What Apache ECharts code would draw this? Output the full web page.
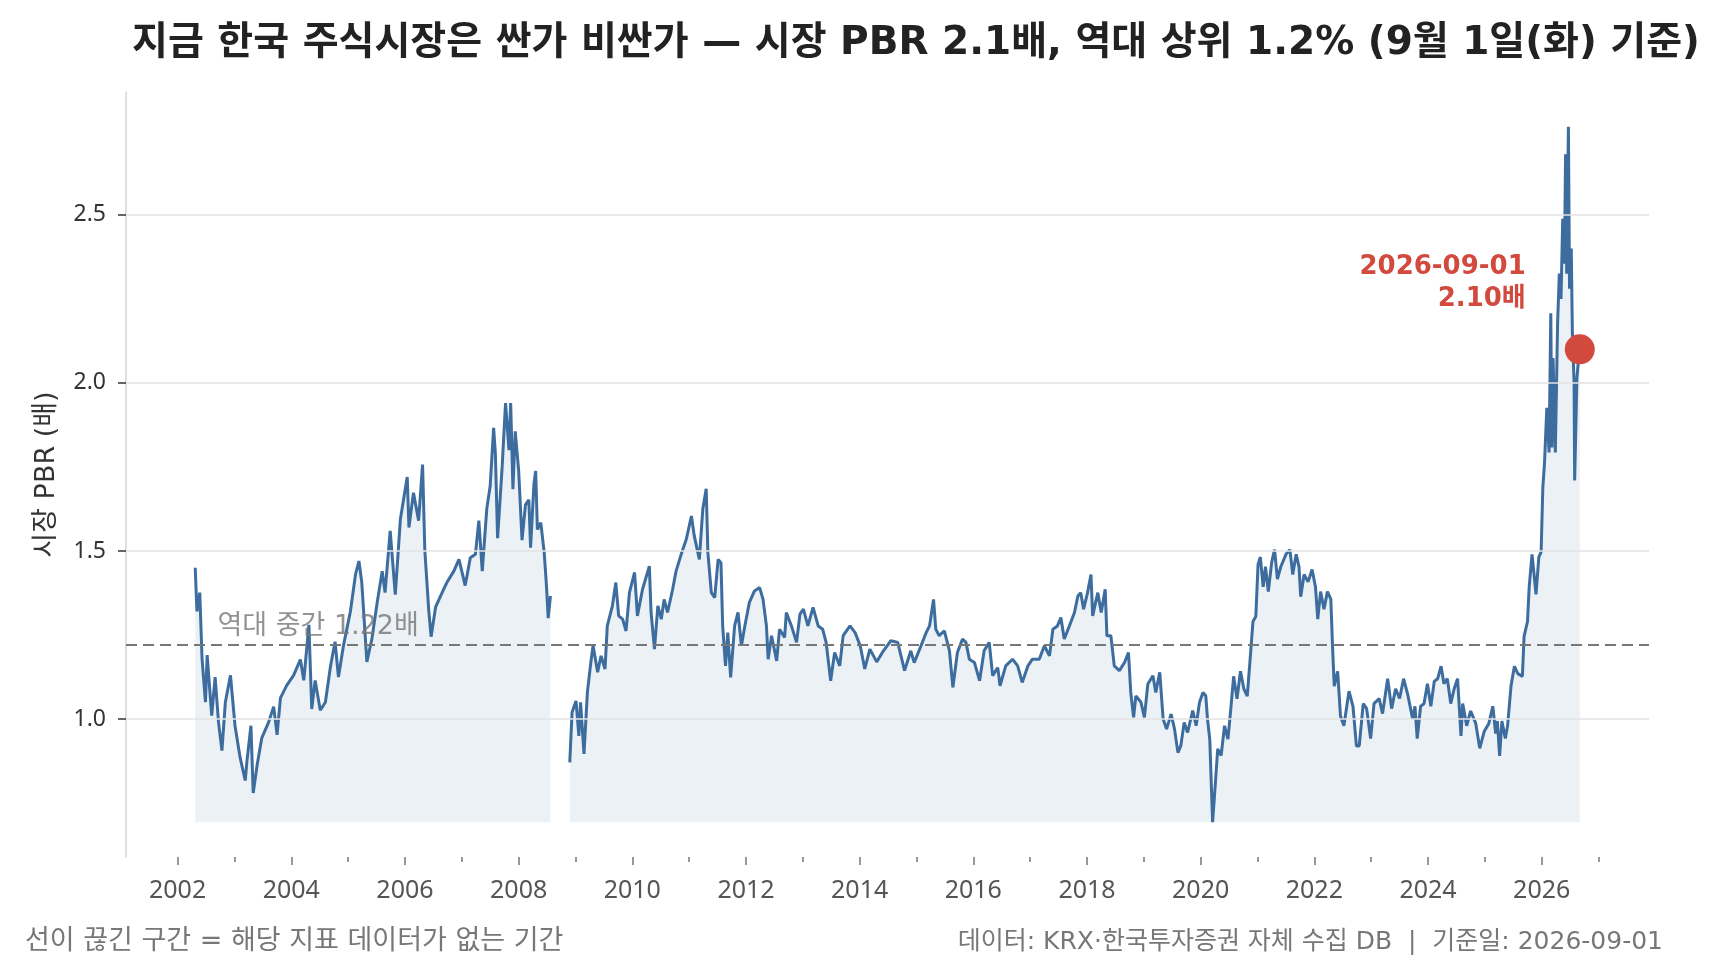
<!DOCTYPE html>
<html><head><meta charset="utf-8">
<script src="https://cdn.jsdelivr.net/npm/echarts@6/dist/echarts.min.js"></script>
<style>html,body{margin:0;padding:0;background:#fff}#c{width:1728px;height:975px}</style>
</head><body><div id="c"></div>
<script>
const years = [
2002.31,2002.34,2002.39,2002.43,2002.49,2002.52,2002.60,2002.66,2002.72,2002.78,2002.84,2002.93,
2003.01,2003.10,2003.19,2003.22,2003.29,2003.33,2003.40,2003.48,2003.60,2003.69,2003.75,2003.81,2003.92,
2004.04,2004.16,2004.22,2004.31,2004.36,2004.42,2004.51,2004.60,2004.69,2004.77,2004.83,2004.92,
2005.04,2005.13,2005.19,2005.24,2005.33,2005.42,2005.51,2005.60,2005.65,2005.74,2005.83,2005.92,
2006.04,2006.07,2006.15,2006.24,2006.31,2006.35,2006.42,2006.46,2006.54,2006.68,2006.74,2006.86,2006.95,
2007.06,2007.15,2007.24,2007.30,2007.36,2007.44,2007.50,2007.56,2007.59,2007.63,2007.71,2007.77,2007.83,2007.86,2007.90,2007.94,
2008.00,2008.06,2008.12,2008.18,2008.21,2008.27,2008.30,2008.33,2008.39,2008.45,2008.49,2008.52,2008.56,
2008.70,
2008.90,2008.94,2009.01,2009.06,2009.09,2009.15,2009.21,2009.27,2009.31,2009.39,2009.45,2009.52,2009.56,2009.65,2009.71,2009.76,2009.83,2009.89,2009.95,
2010.04,2010.09,2010.18,2010.30,2010.33,2010.39,2010.45,2010.51,2010.56,2010.62,2010.71,2010.77,2010.86,2010.95,
2011.04,2011.09,2011.18,2011.24,2011.30,2011.33,2011.39,2011.45,2011.51,2011.56,2011.59,2011.64,2011.68,2011.73,2011.80,2011.86,2011.92,2011.98,
2012.06,2012.15,2012.24,2012.30,2012.36,2012.39,2012.45,2012.54,2012.59,2012.68,2012.71,2012.80,2012.89,2012.95,
2013.01,2013.09,2013.18,2013.27,2013.35,2013.41,2013.49,2013.56,2013.65,2013.71,2013.83,2013.92,
2014.01,2014.09,2014.18,2014.30,2014.40,2014.55,2014.67,2014.79,2014.90,2014.96,
2015.08,2015.17,2015.23,2015.30,2015.34,2015.40,2015.49,2015.58,2015.64,2015.72,2015.81,2015.87,2015.93,
2016.02,2016.11,2016.19,2016.28,2016.34,2016.43,2016.47,2016.57,2016.69,2016.78,2016.86,2016.96,
2017.04,2017.16,2017.25,2017.34,2017.40,2017.48,2017.54,2017.60,2017.69,2017.78,2017.84,2017.89,2017.94,
2018.01,2018.07,2018.10,2018.19,2018.25,2018.32,2018.35,2018.42,2018.48,2018.57,2018.66,2018.73,2018.77,2018.82,2018.86,2018.95,
2019.01,2019.07,2019.16,2019.21,2019.28,2019.34,2019.40,2019.48,2019.54,2019.60,2019.65,2019.71,2019.77,2019.86,2019.92,2019.98,
2020.04,2020.09,2020.12,2020.16,2020.21,2020.26,2020.30,2020.36,2020.42,2020.48,2020.53,2020.58,2020.64,2020.70,2020.76,2020.82,2020.88,2020.92,2020.97,
2021.01,2021.05,2021.10,2021.14,2021.19,2021.25,2021.30,2021.35,2021.41,2021.50,2021.57,2021.62,2021.68,2021.73,2021.76,2021.82,2021.89,2021.96,
2022.02,2022.06,2022.11,2022.17,2022.23,2022.29,2022.32,2022.35,2022.41,2022.46,2022.52,2022.61,2022.68,2022.74,2022.79,2022.86,2022.92,2022.99,
2023.05,2023.14,2023.20,2023.29,2023.36,2023.43,2023.50,2023.57,2023.64,2023.73,2023.77,2023.81,2023.87,2023.93,2023.99,
2024.05,2024.11,2024.17,2024.23,2024.28,2024.34,2024.40,2024.46,2024.52,2024.58,2024.61,2024.68,2024.75,2024.84,2024.91,2024.99,
2025.07,2025.14,2025.19,2025.22,2025.26,2025.30,2025.36,2025.40,2025.46,2025.52,2025.58,2025.66,2025.69,2025.75,2025.78,2025.83,2025.87,2025.90,2025.95,2025.99,
2026.02,2026.05,2026.09,2026.13,2026.16,2026.18,2026.20,2026.24,2026.28,2026.31,2026.34,2026.37,2026.40,2026.42,2026.44,2026.47,2026.49,2026.52,2026.54,2026.57,2026.58,2026.62,2026.65,2026.67
];
const pbr = [
1.45,1.32,1.376,1.18,1.05,1.19,1.01,1.125,0.99,0.906,1.05,1.13,
0.98,0.885,0.817,0.875,0.98,0.78,0.864,0.943,0.99,1.037,0.953,1.063,1.10,
1.13,1.177,1.115,1.28,1.03,1.115,1.026,1.05,1.157,1.23,1.125,1.22,
1.32,1.43,1.47,1.407,1.17,1.24,1.345,1.44,1.376,1.56,1.37,1.595,
1.72,1.57,1.673,1.59,1.757,1.50,1.32,1.245,1.334,1.386,1.407,1.44,1.475,
1.397,1.48,1.49,1.59,1.44,1.626,1.694,1.866,1.793,1.538,1.75,1.94,1.80,1.94,1.684,1.856,
1.74,1.532,1.637,1.652,1.51,1.70,1.738,1.564,1.584,1.495,1.396,1.30,1.366,
null,
0.871,1.02,1.054,0.95,1.05,0.896,1.08,1.168,1.218,1.139,1.188,1.149,1.277,1.337,1.406,1.307,1.297,1.262,1.376,
1.436,1.307,1.386,1.455,1.317,1.208,1.337,1.297,1.356,1.317,1.386,1.44,1.49,1.535,
1.604,1.545,1.475,1.624,1.685,1.495,1.376,1.361,1.475,1.465,1.277,1.158,1.257,1.124,1.277,1.317,1.218,1.277,
1.347,1.381,1.391,1.356,1.277,1.178,1.248,1.173,1.267,1.243,1.317,1.277,1.228,1.312,
1.327,1.277,1.332,1.277,1.267,1.228,1.114,1.198,1.158,1.248,1.277,1.257,
1.218,1.149,1.208,1.17,1.198,1.233,1.228,1.144,1.203,1.168,
1.218,1.257,1.277,1.356,1.267,1.248,1.262,1.203,1.094,1.198,1.238,1.228,1.178,
1.168,1.114,1.203,1.228,1.129,1.153,1.099,1.158,1.178,1.158,1.109,1.158,
1.178,1.178,1.218,1.188,1.267,1.277,1.302,1.238,1.277,1.317,1.366,1.376,1.327,
1.376,1.43,1.307,1.376,1.317,1.386,1.248,1.248,1.158,1.144,1.168,1.198,1.079,1.005,1.069,1.05,
1.005,1.104,1.129,1.079,1.139,1.0,0.97,1.015,0.97,0.90,0.92,0.99,0.96,1.025,0.98,1.05,
1.079,1.069,1.0,0.94,0.693,0.812,0.911,0.891,0.98,0.94,1.03,1.127,1.06,1.142,1.09,1.068,1.20,1.29,1.305,
1.46,1.482,1.393,1.453,1.379,1.467,1.504,1.416,1.453,1.49,1.504,1.43,1.49,1.453,1.364,1.43,1.408,1.445,
1.393,1.297,1.379,1.327,1.379,1.357,1.216,1.098,1.142,1.009,0.98,1.083,1.038,0.92,0.92,1.046,1.031,0.942,
1.046,1.061,1.016,1.12,1.031,1.09,1.061,1.12,1.075,1.0,1.038,0.942,1.038,1.046,1.105,
1.038,1.112,1.12,1.157,1.105,1.12,1.046,1.09,1.12,0.95,1.046,0.98,1.024,0.987,0.913,0.964,
0.987,1.038,0.957,0.994,0.89,0.994,0.942,0.98,1.098,1.157,1.135,1.127,1.246,1.29,1.393,1.49,1.423,1.371,1.482,1.497,
1.689,1.763,1.926,1.793,2.207,1.808,2.074,1.793,2.178,2.325,2.25,2.488,2.355,2.68,2.325,2.762,2.28,2.40,2.148,2.0,1.71,2.015,2.074,2.10
];
const medianValue = 1.22;
const lastDate = '2026-09-01';
const lastYear = 2026.67;
const lastValue = 2.10;
const yTicks = [1.0, 1.5, 2.0, 2.5];
const xMajorTicks = [2002,2004,2006,2008,2010,2012,2014,2016,2018,2020,2022,2024,2026];
const xMinorTicks = [2003,2005,2007,2009,2011,2013,2015,2017,2019,2021,2023,2025,2027];
const titleText = '지금 한국 주식시장은 싼가 비싼가 — 시장 PBR 2.1배, 역대 상위 1.2% (9월 1일(화) 기준)';
const yName = '시장 PBR (배)';
const footLeft = '선이 끊긴 구간 = 해당 지표 데이터가 없는 기간';
const footRight = '데이터: KRX·한국투자증권 자체 수집 DB  |  기준일: 2026-09-01';

const FONT = '"DejaVu Sans", "Noto Sans CJK KR", sans-serif';
const TICKFONT = '"Noto Sans", "Noto Sans CJK KR", sans-serif';
const dataMin = Math.min(...pbr.filter(v => v !== null));
const dataMax = Math.max(...pbr.filter(v => v !== null));
const yPad = (dataMax - dataMin) * 0.05;
const xPad = (years[years.length - 1] - years[0]) * 0.05;
const xMin = years[0] - xPad, xMax = years[years.length - 1] + xPad;
const lineData = years.map((y, i) => [y, pbr[i] === null ? '-' : pbr[i]]);

const chart = echarts.init(document.getElementById('c'), null, {renderer: 'canvas'});
chart.setOption({
  animation: false,
  backgroundColor: '#fff',
  textStyle: {fontFamily: FONT},
  title: [
    {text: titleText, left: 127, top: 19, textStyle: {fontFamily: FONT, fontSize: 39, fontWeight: 'bold', color: '#222'}},
    {text: footLeft, left: 20, top: 923, textStyle: {fontFamily: FONT, fontSize: 27, fontWeight: 'normal', color: '#777'}},
    {text: footRight, right: 60, top: 925, textStyle: {fontFamily: FONT, fontSize: 25, fontWeight: 'normal', color: '#777'}}
  ],
  grid: {left: 126, right: 79, top: 92, bottom: 118},
  xAxis: [
    {type: 'value', min: xMin, max: xMax,
     axisLine: {show: false}, splitLine: {show: false},
     axisTick: {show: true, customValues: xMajorTicks, length: 8, lineStyle: {color: '#777', width: 1.5}},
     axisLabel: {show: true, customValues: xMajorTicks, margin: 21, fontSize: 25, color: '#555', fontFamily: TICKFONT, formatter: v => String(v)}},
    {type: 'value', min: xMin, max: xMax, position: 'bottom',
     axisLine: {show: false}, splitLine: {show: false},
     axisTick: {show: true, customValues: xMinorTicks, length: 5, lineStyle: {color: '#777', width: 1.5}},
     axisLabel: {show: false}}
  ],
  yAxis: {
    type: 'value', min: dataMin - yPad, max: dataMax + yPad,
    name: yName, nameLocation: 'middle', nameRotate: 90, nameGap: 66,
    nameTextStyle: {fontFamily: FONT, fontSize: 27, color: '#333'},
    axisLine: {show: true, lineStyle: {color: '#d6d6d6', width: 1.5}},
    axisTick: {show: true, customValues: yTicks, length: 8, lineStyle: {color: '#333', width: 1.5}},
    axisLabel: {show: true, customValues: yTicks, margin: 20, fontSize: 23, color: '#333', fontFamily: TICKFONT, formatter: v => v.toFixed(1)},
    splitLine: {show: false}
  },
  series: [
    {type: 'line', name: 'grid', data: [], z: 0, silent: true,
     markLine: {silent: true, symbol: 'none', label: {show: false},
       lineStyle: {color: '#e3e3e3', width: 1.5, type: 'solid'},
       data: yTicks.map(v => ({yAxis: v}))}},
    {type: 'line', name: 'PBR', data: lineData, showSymbol: false, connectNulls: false, z: 3,
     lineStyle: {color: '#3d6c9e', width: 3},
     itemStyle: {color: '#3d6c9e'},
     areaStyle: {origin: dataMin, color: 'rgba(61,108,158,0.14)'},
     markLine: {silent: true, symbol: 'none', label: {show: false},
       lineStyle: {color: '#777', width: 2, type: [11, 6]},
       data: [{yAxis: medianValue}]}},
    {type: 'scatter', name: 'medianLabel', data: [[2002.70, medianValue]], symbolSize: 0, silent: true, z: 4,
     label: {show: true, position: 'right', distance: 0, offset: [0, -18], fontFamily: FONT, fontSize: 27, color: '#777',
       formatter: () => '역대 중간 ' + medianValue.toFixed(2) + '배'}},
    {type: 'scatter', name: 'last', data: [[lastYear, lastValue]], symbolSize: 30, z: 5,
     itemStyle: {color: '#d24a3e', opacity: 1},
     label: {show: true, position: 'left', distance: 39, offset: [0, -66], align: 'right',
       fontFamily: FONT, fontSize: 26, fontWeight: 'bold', color: '#d24a3e', lineHeight: 32,
       formatter: () => lastDate + '\n' + lastValue.toFixed(2) + '배'}}
  ]
});
</script>
</body></html>
